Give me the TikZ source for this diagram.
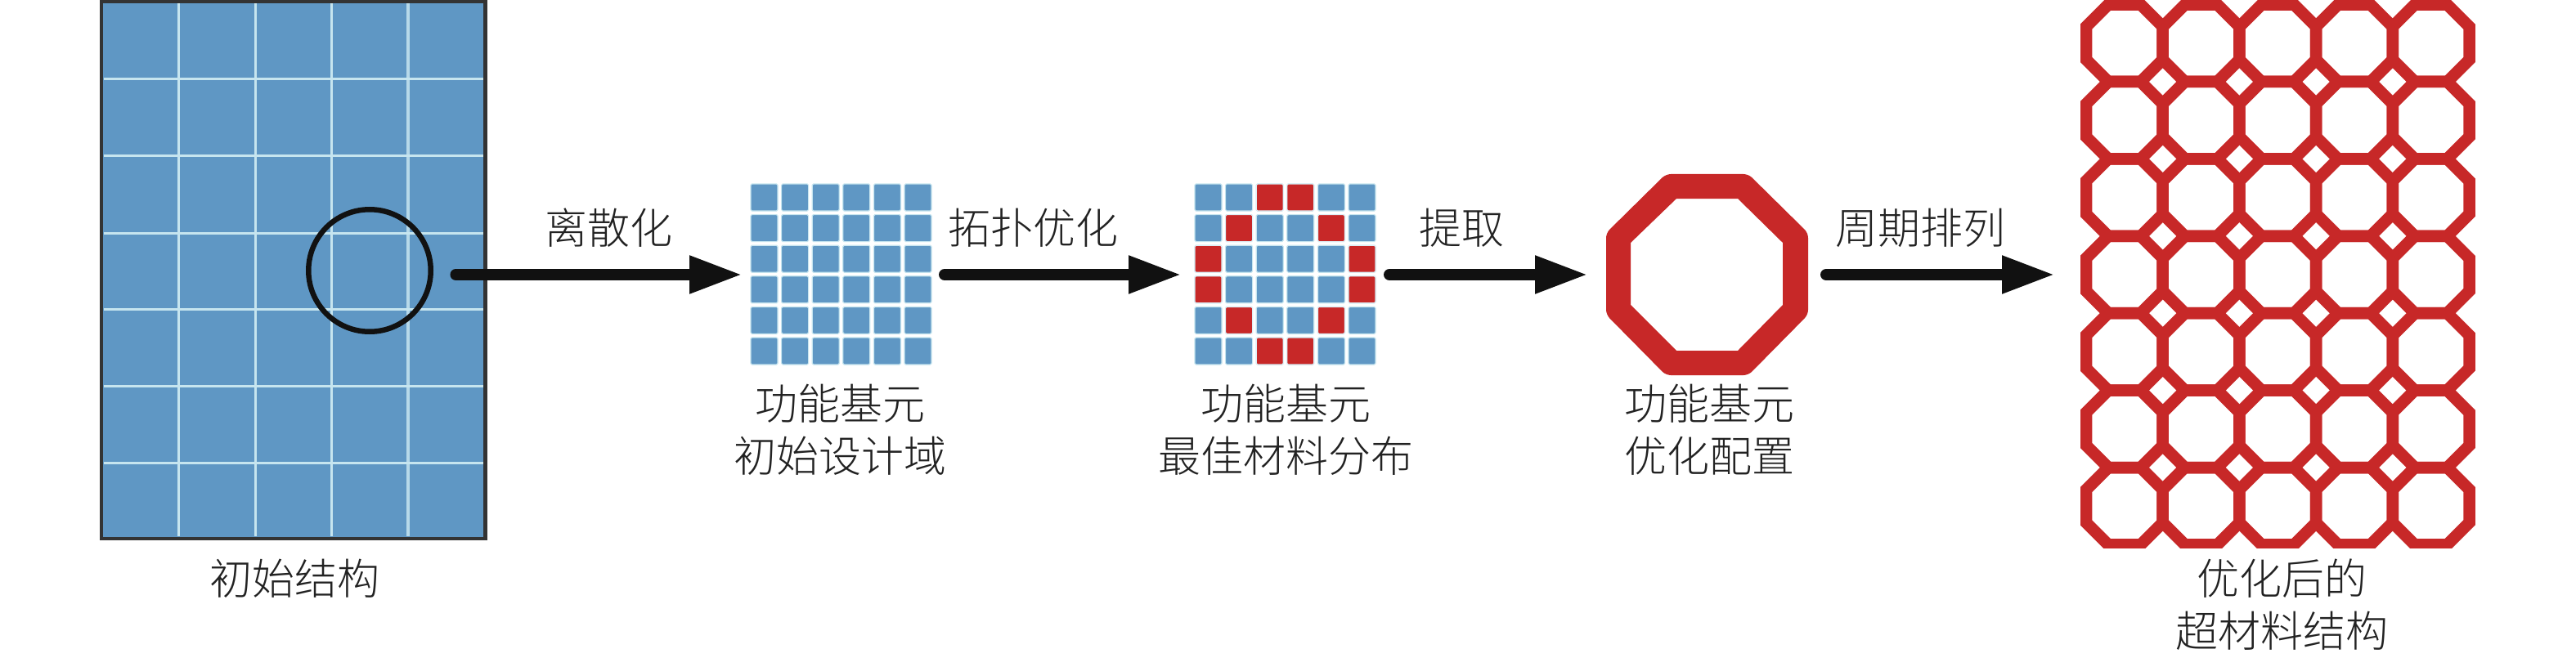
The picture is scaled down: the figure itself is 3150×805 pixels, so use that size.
\documentclass[tikz,border=0pt]{standalone}
\usepackage{fontspec}
\usetikzlibrary{arrows.meta}
\newfontfamily\cjk[UprightFont={* Light}]{Noto Sans CJK SC}
\definecolor{cellblue}{HTML}{5F97C4}
\definecolor{cellred}{HTML}{C72828}
\definecolor{paleline}{HTML}{C6E5EF}
\definecolor{inktext}{HTML}{222222}
\definecolor{inkline}{HTML}{111111}
\tikzset{
  panel/.style={draw=none,inner sep=0pt,outer sep=0pt,minimum width=#1},
  caption/.style={font=\cjk\fontsize{52}{64}\selectfont,text=inktext,align=center,inner sep=0pt},
  flow/.style={line width=14pt,draw=inkline,line cap=round,-{Triangle[length=65pt,width=43pt,fill=inkline]}},
  blocell/.style={fill=cellblue,draw=paleline,line width=1.2pt,rounded corners=1.5pt},
  redcell/.style={fill=cellred,draw=paleline!60!white,line width=1.2pt,rounded corners=1.5pt},
  lattice/.style={draw=cellred,line width=14.5pt,line join=miter}
}
\begin{document}
\begin{tikzpicture}[x=1pt,y=-1pt]
\useasboundingbox (0,0) rectangle (3150,805);
\fill[white] (0,0) rectangle (3150,805);
\coordinate (axis) at (0,336);
% initial structure
\node[panel=469.5pt,minimum height=657pt,fill=cellblue,draw=black!80,line width=4.5pt] (structure) at (358.7,330.5) {};
\foreach \gx in {218,312,405}
  \draw[paleline,line width=3pt] (\gx,4.5) -- (\gx,656);
\draw[paleline!85!cellblue,line width=4pt] (499,4.5) -- (499,656);
\foreach \gy in {97,191,285,378,472,566}
  \draw[paleline,line width=3pt] (126.5,\gy) -- (591,\gy);
\node[circle,draw=inkline,line width=6.5pt,minimum size=149.5pt,inner sep=0pt,outer sep=0pt] (focus) at (452,331) {};
% cell panels
\node[panel=221pt,minimum height=221pt] (grid1) at (1028.5,335.5) {};
\node[panel=221pt,minimum height=221pt] (grid2) at (1571.5,335.5) {};
\foreach \col in {0,...,5}
  \foreach \row in {0,...,5} {
    \fill[blocell] ({918+37.6*\col},{225+37.6*\row}) rectangle +(33,33);
    \fill[blocell] ({1461+37.6*\col},{225+37.6*\row}) rectangle +(33,33);
  }
\foreach \col/\row in {2/0,3/0,1/1,4/1,0/2,5/2,0/3,5/3,1/4,4/4,2/5,3/5}
  \fill[redcell] ({1461+37.6*\col},{225+37.6*\row}) rectangle +(33,33);
% single octagon
\node[panel=247pt,minimum height=246pt] (octagon) at (2087.5,336) {};
\fill[cellred,even odd rule]
  [rounded corners=6pt] (2037,213) -- (2138,213) -- (2211,285) -- (2211,385) -- (2138,459) -- (2037,459) -- (1964,385) -- (1964,285) -- cycle
  [sharp corners] (2050,243) -- (2125,243) -- (2180,297) -- (2180,373) -- (2125,429) -- (2050,429) -- (1994,373) -- (1994,297) -- cycle;
% metamaterial lattice
\node[panel=483pt,minimum height=670pt] (metamaterial) at (2785.5,335) {};
\begin{scope}
  \clip (2544,0) rectangle (3027,670);
  \foreach \col in {0,...,4}
    \foreach \row in {0,...,6}
      \draw[lattice,shift={({2597.85+93.7*\col},{52.8+94.4*\row})}]
        (-46.85,-20.2) -- (-19.85,-47.2) -- (19.85,-47.2) -- (46.85,-20.2) -- (46.85,20.2) -- (19.85,47.2) -- (-19.85,47.2) -- (-46.85,20.2) -- cycle;
\end{scope}
% connectors
\draw[flow] ([xshift=-36pt]structure.east |- axis) -- ([xshift=-10pt]grid1.west |- axis);
\draw[flow] ([xshift=16pt]grid1.east |- axis) -- ([xshift=-16pt]grid2.west |- axis);
\draw[flow] ([xshift=17pt]grid2.east |- axis) -- ([xshift=-22pt]octagon.west |- axis);
\draw[flow] ([xshift=22pt]octagon.east |- axis) -- ([xshift=-31pt]metamaterial.west |- axis);
% arrow labels
\node[caption] (l1) at (744,279) {离散化};
\node[caption] (l2) at (1263,279) {拓扑优化};
\node[caption] (l3) at (1787,279) {提取};
\node[caption] (l4) at (2348,279) {周期排列};
% captions
\node[caption] (c1) at (360,708) {初始结构};
\node[caption] (c2) at (1027,526) {功能基元\\初始设计域};
\node[caption] (c3) at (1572,526) {功能基元\\最佳材料分布};
\node[caption] (c4) at (2090,526) {功能基元\\优化配置};
\node[caption] (c5) at (2790,740) {优化后的\\超材料结构};
\end{tikzpicture}
\end{document}
